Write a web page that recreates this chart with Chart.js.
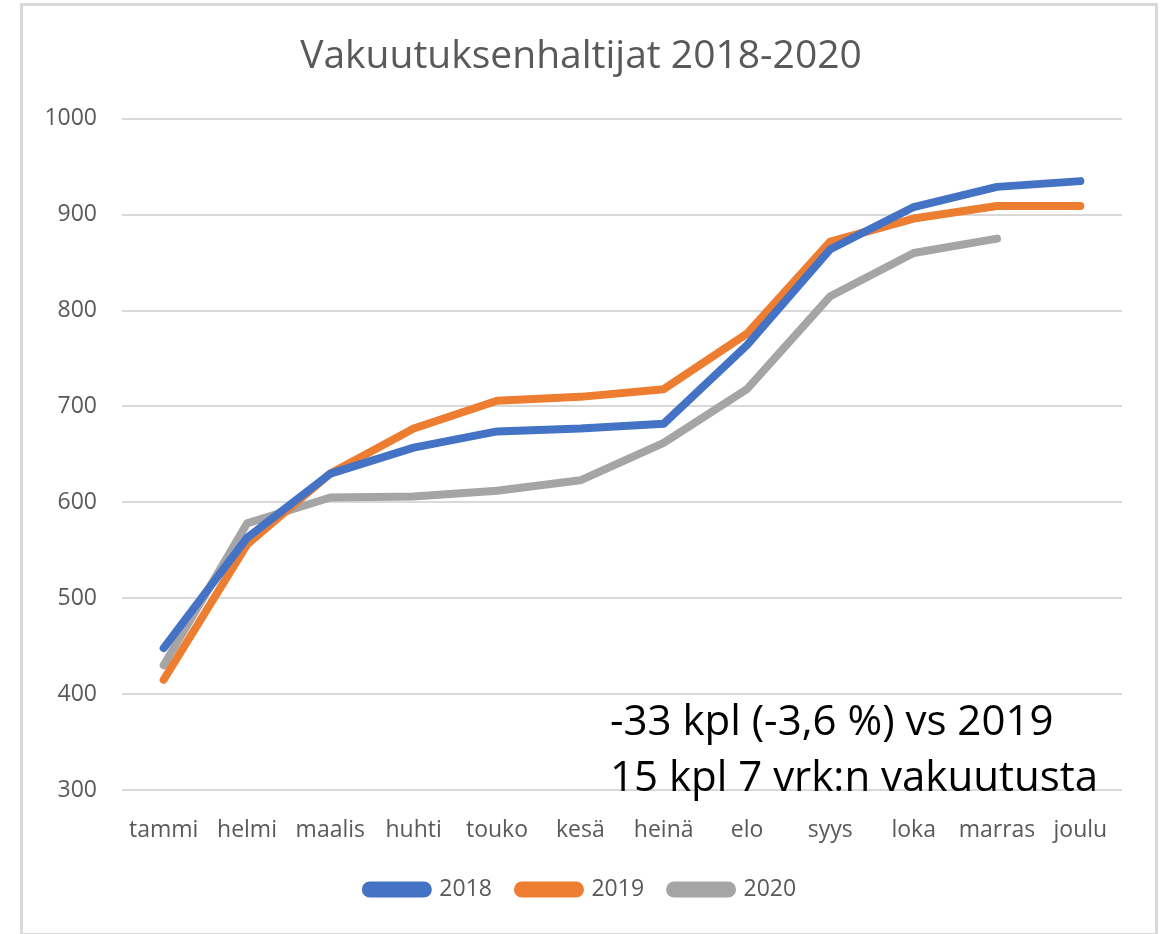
<!DOCTYPE html>
<html>
<head>
<meta charset="utf-8">
<script src="https://cdn.jsdelivr.net/npm/chart.js@4.4.1/dist/chart.umd.min.js"></script>
<style>
  html, body { margin: 0; padding: 0; background: #fff; }
  #wrap { position: absolute; left: 0; top: 0; width: 1167px; height: 934px; }
</style>
</head>
<body>
<div id="wrap"><canvas id="chart"></canvas></div>
<script>
// kuukaudet ja sarjat
const months = ['tammi', 'helmi', 'maalis', 'huhti', 'touko', 'kesä', 'heinä', 'elo', 'syys', 'loka', 'marras', 'joulu'];
const seriesNames = ['2018', '2019', '2020'];
const values2018 = [448, 563, 630, 657, 674, 677, 682, 764, 864, 908, 929, 935];
const values2019 = [415, 556, 630, 677, 706, 710, 718, 776, 872, 896, 909, 909];
const values2020 = [430, 578, 605, 606, 612, 623, 662, 718, 815, 860, 875, null];
const yTicks = [300, 400, 500, 600, 700, 800, 900, 1000];
const noteLines = ['-33 kpl (-3,6 %) vs 2019', '15 kpl 7 vrk:n vakuutusta'];

const colors = ['#4472C4', '#ED7D31', '#A5A5A5'];
const tickFont = "'Open Sans', sans-serif";

// kehys + teksti-huomautus
const framePlugin = {
    id: 'frame',
    beforeDraw(chart) {
        const ctx = chart.ctx;
        ctx.save();
        ctx.fillStyle = '#fff';
        ctx.fillRect(0, 0, chart.width, chart.height);
        ctx.strokeStyle = '#d9d9d9';
        ctx.lineWidth = 3;
        ctx.strokeRect(21.5, 4.5, 1135, 930);
        ctx.restore();
    },
    afterDraw(chart) {
        const ctx = chart.ctx;
        ctx.save();
        ctx.fillStyle = '#000';
        ctx.font = "42px 'Open Sans', sans-serif";
        ctx.textBaseline = 'middle';
        ctx.textAlign = 'left';
        ctx.fillText(noteLines[0], 610, 723);
        ctx.fillText(noteLines[1], 610, 779);
        ctx.restore();
    }
};

const datasets = [values2018, values2019, values2020].map((vals, i) => ({
    label: seriesNames[i],
    data: vals,
    borderColor: colors[i],
    backgroundColor: colors[i],
    borderWidth: 8,
    borderCapStyle: 'round',
    borderJoinStyle: 'round',
    pointRadius: 0,
    pointHoverRadius: 0,
    tension: 0,
    spanGaps: false
}));

const ctx = document.getElementById('chart').getContext('2d');
const chart = new Chart(ctx, {
    type: 'line',
    data: { labels: months, datasets: datasets },
    options: {
        responsive: true,
        maintainAspectRatio: false,
        animation: false,
        layout: { padding: { left: 40, right: 45, top: 0, bottom: 23 } },
        plugins: {
            title: {
                display: true,
                text: 'Vakuutuksenhaltijat 2018-2020',
                color: '#595959',
                font: { family: tickFont, size: 39, weight: 'normal' },
                padding: { top: 33, bottom: 39 }
            },
            legend: {
                position: 'bottom',
                labels: {
                    color: '#595959',
                    font: { family: tickFont, size: 23 },
                    boxWidth: 62,
                    boxHeight: 8,
                    useBorderRadius: true,
                    borderRadius: 4,
                    padding: 26
                }
            },
            tooltip: { enabled: false }
        },
        scales: {
            x: {
                offset: true,
                grid: { display: false },
                border: { display: false },
                ticks: {
                    color: '#595959',
                    font: { family: tickFont, size: 23 },
                    padding: 19,
                    maxRotation: 0,
                    autoSkip: false
                },
                afterFit(scale) { scale.height = 62; }
            },
            y: {
                min: 300,
                max: 1000,
                afterBuildTicks(scale) { scale.ticks = yTicks.map(v => ({ value: v })); },
                grid: { color: '#d9d9d9', lineWidth: 2, drawTicks: false },
                border: { display: false },
                ticks: {
                    color: '#595959',
                    font: { family: tickFont, size: 23 },
                    padding: 25,
                    callback: (v) => String(v)
                },
                afterFit(scale) { scale.width = 82; }
            }
        }
    },
    plugins: [framePlugin]
});
</script>
</body>
</html>
